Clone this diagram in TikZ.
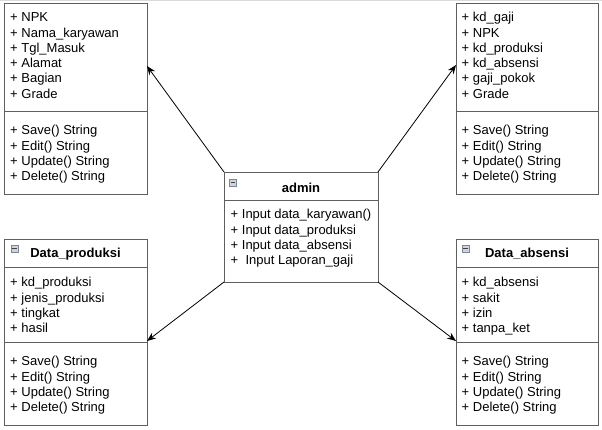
\documentclass[tikz,border=0pt]{standalone}
\usepackage{fontspec}
\setmainfont{Liberation Sans}
\usepackage{xcolor}
\usepackage{tikz}
\usetikzlibrary{arrows.meta}
\definecolor{frameColor}{RGB}{95, 95, 95}
\definecolor{iconFill}{RGB}{205, 212, 222}
\definecolor{iconEdge}{RGB}{125, 135, 150}
\definecolor{topLine}{RGB}{218, 218, 218}

\tikzset{
  classbox/.style={draw=frameColor, line width=1pt, inner sep=0pt, outer sep=0pt, fill=white},
  member/.style={font=\fontsize{13}{15}\selectfont, inner sep=0pt, anchor=base west},
  classtitle/.style={font=\fontsize{13}{15}\selectfont\bfseries, inner sep=0pt, anchor=base},
  divider/.style={draw=frameColor, line width=1pt},
  link/.style={draw=black, line width=0.8pt, -{Stealth[length=9pt, width=7pt]}},
  minusicon/.style={draw=iconEdge, fill=iconFill, line width=0.6pt, minimum size=7pt, inner sep=0pt},
  minusbar/.style={draw=black!75, line width=0.9pt}
}

\begin{document}
\begin{tikzpicture}[x=1pt, y=-1pt]
  \useasboundingbox (0,0) rectangle (602,429);
  % faint edge along the top
  \draw[topLine, line width=1pt] (0,0.5) -- (602,0.5);

  % Karyawan (top left, header cut off)
  \node[classbox, minimum width=143pt, minimum height=191pt] (karyawan) at (75.5,98.5) {};
  \draw[divider] (4,111) -- (147,111);
  \foreach \attr [count=\i from 0] in {NPK, Nama\_karyawan, Tgl\_Masuk, Alamat, Bagian, Grade}
    \node[member] (karyawan-a\i) at (10,{21.7+15.3*\i}) {+ \attr};
  \foreach \op [count=\i from 0] in {Save, Edit, Update, Delete}
    \node[member] (karyawan-m\i) at (10,{134.7+15.3*\i}) {+ \op() String};

  % Gaji (top right, header cut off)
  \node[classbox, minimum width=142pt, minimum height=191pt] (gaji) at (527,98.5) {};
  \draw[divider] (456,111) -- (598,111);
  \foreach \attr [count=\i from 0] in {kd\_gaji, NPK, kd\_produksi, kd\_absensi, gaji\_pokok, Grade}
    \node[member] (gaji-a\i) at (461.5,{21.7+15.3*\i}) {+ \attr};
  \foreach \op [count=\i from 0] in {Save, Edit, Update, Delete}
    \node[member] (gaji-m\i) at (461.5,{134.7+15.3*\i}) {+ \op() String};

  % Admin (centre)
  \node[classbox, minimum width=154pt, minimum height=110pt] (admin) at (301,227) {};
  \draw[divider] (224,200) -- (378,200);
  \node[minusicon] (admin-icon) at (233,182.5) {};
  \draw[minusbar] ([xshift=1.6pt]admin-icon.west) -- ([xshift=-1.6pt]admin-icon.east);
  \node[classtitle] (admin-title) at (301,192.5) {admin};
  \foreach \op [count=\i from 0] in {Input data\_karyawan(), Input data\_produksi, Input data\_absensi, \ Input Laporan\_gaji}
    \node[member] (admin-m\i) at (230.5,{218.7+15.3*\i}) {+ \op};

  % Data_produksi (bottom left)
  \node[classbox, minimum width=143pt, minimum height=186pt] (produksi) at (75.5,332) {};
  \draw[divider] (4,267) -- (147,267);
  \draw[divider] (4,342) -- (147,342);
  \node[minusicon] (produksi-icon) at (14.5,248.5) {};
  \draw[minusbar] ([xshift=1.6pt]produksi-icon.west) -- ([xshift=-1.6pt]produksi-icon.east);
  \node[classtitle] (produksi-title) at (75.5,257.7) {Data\_produksi};
  \foreach \attr [count=\i from 0] in {kd\_produksi, jenis\_produksi, tingkat, hasil}
    \node[member] (produksi-a\i) at (10,{286.7+15.3*\i}) {+ \attr};
  \foreach \op [count=\i from 0] in {Save, Edit, Update, Delete}
    \node[member] (produksi-m\i) at (10,{365.7+15.3*\i}) {+ \op() String};

  % Data_absensi (bottom right)
  \node[classbox, minimum width=142pt, minimum height=186pt] (absensi) at (527,332) {};
  \draw[divider] (456,267) -- (598,267);
  \draw[divider] (456,342) -- (598,342);
  \node[minusicon] (absensi-icon) at (465.5,248.5) {};
  \draw[minusbar] ([xshift=1.6pt]absensi-icon.west) -- ([xshift=-1.6pt]absensi-icon.east);
  \node[classtitle] (absensi-title) at (527,257.7) {Data\_absensi};
  \foreach \attr [count=\i from 0] in {kd\_absensi, sakit, izin, tanpa\_ket}
    \node[member] (absensi-a\i) at (461.5,{286.7+15.3*\i}) {+ \attr};
  \foreach \op [count=\i from 0] in {Save, Edit, Update, Delete}
    \node[member] (absensi-m\i) at (461.5,{365.7+15.3*\i}) {+ \op() String};

  % Connectors from admin corners
  \coordinate (karyawan-in) at (147,66);
  \coordinate (gaji-in) at (456,65);
  \coordinate (produksi-in) at (147,341);
  \coordinate (absensi-in) at (456,341);
  \draw[link] (admin.north west) -- (karyawan-in);
  \draw[link] (admin.north east) -- (gaji-in);
  \draw[link] (admin.south west) -- (produksi-in);
  \draw[link] (admin.south east) -- (absensi-in);
\end{tikzpicture}
\end{document}
